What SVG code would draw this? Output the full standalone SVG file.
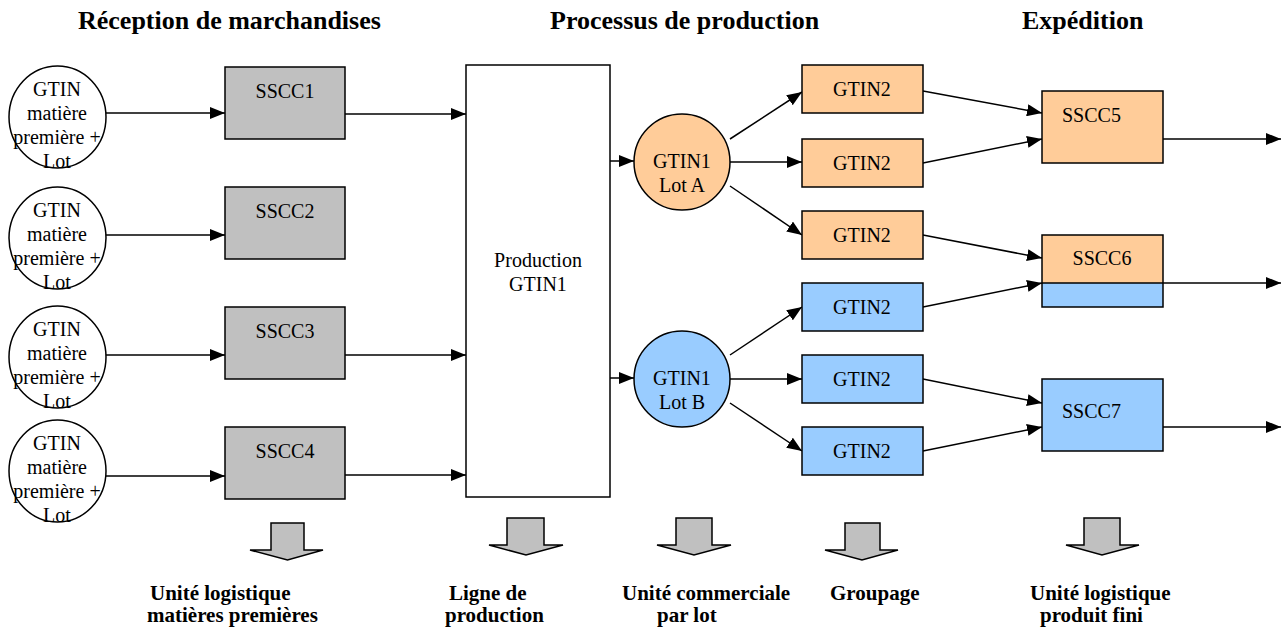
<svg xmlns="http://www.w3.org/2000/svg" width="1282" height="629" viewBox="0 0 1282 629">
<defs>
<marker id="ah" markerUnits="userSpaceOnUse" markerWidth="15" markerHeight="12" refX="15" refY="6" orient="auto">
<path d="M0,0 L15,6 L0,12 z" fill="#000"/>
</marker>
<style>
.t{font-family:"Liberation Serif","Times New Roman",serif;font-size:20px;fill:#000}
.m{text-anchor:middle}
.h{font-family:"Liberation Serif","Times New Roman",serif;font-size:26px;font-weight:bold;fill:#000}
.b{font-family:"Liberation Serif","Times New Roman",serif;font-size:21px;font-weight:bold;fill:#000}
.nd{stroke:#000;stroke-width:1.5}
.w{fill:#fff}
.g{fill:#C0C0C0}
.o{fill:#FFCC99}
.bl{fill:#99CCFF}
.c line{stroke:#000;stroke-width:1.5;marker-end:url(#ah)}
.ba{fill:#C0C0C0;stroke:#000;stroke-width:1.5}
</style>
</defs>
<rect width="1282" height="629" fill="#fff"/>

<g id="headers">
<text class="h" x="78" y="29">Réception de marchandises</text>
<text class="h" x="550" y="29">Processus de production</text>
<text class="h" x="1022" y="29">Expédition</text>
</g>

<g id="connectors" class="c">
<line x1="106" y1="113" x2="225" y2="113"/>
<line x1="106" y1="235" x2="225" y2="235"/>
<line x1="106" y1="355" x2="225" y2="355"/>
<line x1="106" y1="476" x2="225" y2="476"/>
<line x1="345" y1="114" x2="466" y2="114"/>
<line x1="345" y1="355" x2="466" y2="355"/>
<line x1="345" y1="475" x2="466" y2="475"/>
<line x1="610" y1="161" x2="634" y2="161"/>
<line x1="610" y1="378" x2="634" y2="378"/>
<line x1="730" y1="139" x2="802" y2="92"/>
<line x1="730" y1="162" x2="802" y2="162"/>
<line x1="730" y1="186" x2="802" y2="235"/>
<line x1="730" y1="355" x2="802" y2="307"/>
<line x1="730" y1="379" x2="802" y2="379"/>
<line x1="730" y1="403" x2="802" y2="451"/>
<line x1="923" y1="91" x2="1042" y2="113"/>
<line x1="923" y1="163" x2="1042" y2="139"/>
<line x1="923" y1="235" x2="1042" y2="258"/>
<line x1="923" y1="307" x2="1042" y2="283"/>
<line x1="923" y1="379" x2="1042" y2="403"/>
<line x1="923" y1="451" x2="1042" y2="427"/>
<line x1="1163" y1="139" x2="1281" y2="139"/>
<line x1="1163" y1="283" x2="1281" y2="283"/>
<line x1="1163" y1="427" x2="1281" y2="427"/>
</g>

<g id="mp1">
<ellipse class="nd w" cx="57.5" cy="117" rx="48.5" ry="51"/>
<text class="t m" x="57" y="96">GTIN</text><text class="t m" x="57" y="120">matière</text><text class="t m" x="57" y="144">première +</text><text class="t m" x="57" y="168">Lot</text>
</g>
<g id="mp2">
<ellipse class="nd w" cx="57.5" cy="238" rx="48.5" ry="51"/>
<text class="t m" x="57" y="217">GTIN</text><text class="t m" x="57" y="241">matière</text><text class="t m" x="57" y="265">première +</text><text class="t m" x="57" y="289">Lot</text>
</g>
<g id="mp3">
<ellipse class="nd w" cx="57.5" cy="357" rx="48.5" ry="51"/>
<text class="t m" x="57" y="336">GTIN</text><text class="t m" x="57" y="360">matière</text><text class="t m" x="57" y="384">première +</text><text class="t m" x="57" y="408">Lot</text>
</g>
<g id="mp4">
<ellipse class="nd w" cx="57.5" cy="471" rx="48.5" ry="51"/>
<text class="t m" x="57" y="450">GTIN</text><text class="t m" x="57" y="474">matière</text><text class="t m" x="57" y="498">première +</text><text class="t m" x="57" y="522">Lot</text>
</g>

<g id="sscc1"><rect class="nd g" x="225" y="67" width="120" height="72"/><text class="t m" x="285" y="98">SSCC1</text></g>
<g id="sscc2"><rect class="nd g" x="225" y="187" width="120" height="72"/><text class="t m" x="285" y="218">SSCC2</text></g>
<g id="sscc3"><rect class="nd g" x="225" y="307" width="120" height="72"/><text class="t m" x="285" y="338">SSCC3</text></g>
<g id="sscc4"><rect class="nd g" x="225" y="427" width="120" height="72"/><text class="t m" x="285" y="458">SSCC4</text></g>

<g id="production"><rect class="nd w" x="466" y="65" width="144" height="432"/><text class="t m" x="538" y="267">Production</text><text class="t m" x="538" y="291">GTIN1</text></g>

<g id="lotA"><circle class="nd o" cx="682" cy="162" r="48"/><text class="t m" x="682" y="168">GTIN1</text><text class="t m" x="682" y="192">Lot A</text></g>
<g id="lotB"><circle class="nd bl" cx="682" cy="379" r="48"/><text class="t m" x="682" y="385">GTIN1</text><text class="t m" x="682" y="409">Lot B</text></g>

<g id="gtin2a"><rect class="nd o" x="802" y="65" width="121" height="48"/><text class="t m" x="862" y="96">GTIN2</text></g>
<g id="gtin2b"><rect class="nd o" x="802" y="139" width="121" height="48"/><text class="t m" x="862" y="170">GTIN2</text></g>
<g id="gtin2c"><rect class="nd o" x="802" y="211" width="121" height="48"/><text class="t m" x="862" y="242">GTIN2</text></g>
<g id="gtin2d"><rect class="nd bl" x="802" y="283" width="121" height="48"/><text class="t m" x="862" y="314">GTIN2</text></g>
<g id="gtin2e"><rect class="nd bl" x="802" y="355" width="121" height="48"/><text class="t m" x="862" y="386">GTIN2</text></g>
<g id="gtin2f"><rect class="nd bl" x="802" y="427" width="121" height="48"/><text class="t m" x="862" y="458">GTIN2</text></g>

<g id="sscc5"><rect class="nd o" x="1042" y="91" width="121" height="72"/><text class="t" x="1062" y="122">SSCC5</text></g>
<g id="sscc6"><rect class="o" x="1042" y="235" width="121" height="48"/><rect class="bl" x="1042" y="283" width="121" height="24"/><rect fill="none" class="nd" x="1042" y="235" width="121" height="72"/><line class="nd" x1="1042" y1="283" x2="1163" y2="283"/><text class="t m" x="1102" y="265">SSCC6</text></g>
<g id="sscc7"><rect class="nd bl" x="1042" y="379" width="121" height="72"/><text class="t" x="1062" y="418">SSCC7</text></g>

<g id="legend1"><path class="ba" d="M271,523 H304 V550 H323 L287.5,560 L250,550 H271 Z"/><text class="b" x="150" y="600">Unité logistique</text><text class="b" x="147" y="622">matières premières</text></g>
<g id="legend2"><path class="ba" d="M507,518 H544 V545 H563 L526,555 L489,545 H507 Z"/><text class="b" x="449" y="600">Ligne de</text><text class="b" x="445" y="622">production</text></g>
<g id="legend3"><path class="ba" d="M676,518 H712 V545 H731 L694,555 L657,545 H676 Z"/><text class="b" x="622" y="600">Unité commerciale</text><text class="b" x="657" y="622">par lot</text></g>
<g id="legend4"><path class="ba" d="M845,523 H880 V550 H898 L862,560 L825,550 H845 Z"/><text class="b" x="830" y="600">Groupage</text></g>
<g id="legend5"><path class="ba" d="M1084,518 H1120 V545 H1139 L1102,555 L1066,545 H1084 Z"/><text class="b" x="1030" y="600">Unité logistique</text><text class="b" x="1040" y="622">produit fini</text></g>
</svg>
